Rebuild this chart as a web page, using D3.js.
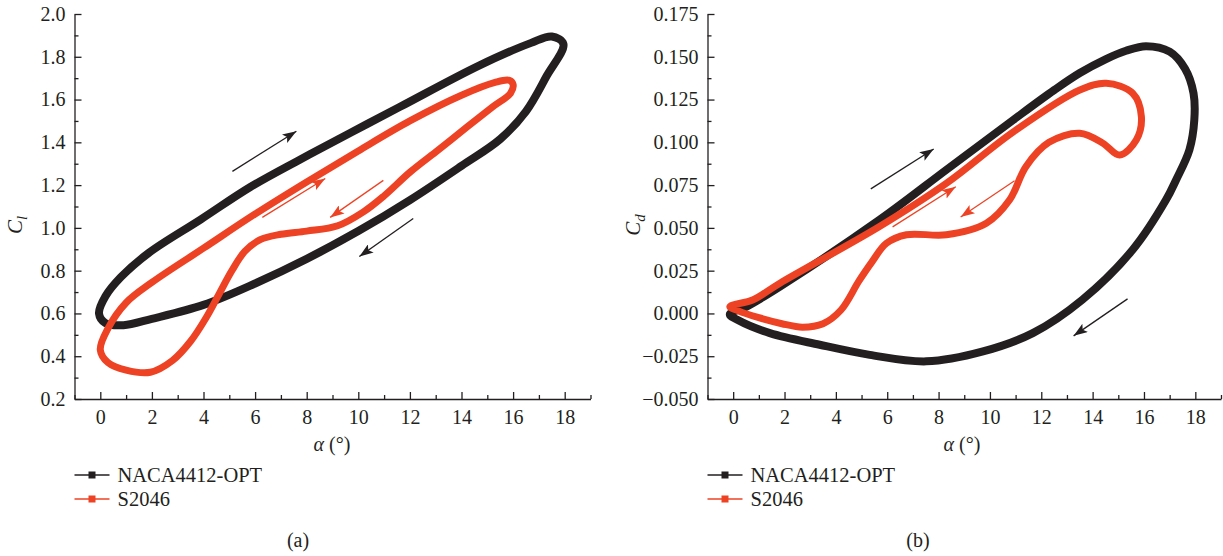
<!DOCTYPE html>
<html>
<head>
<meta charset="utf-8">
<script src="https://cdn.jsdelivr.net/npm/d3@7"></script>
<style>
  body { margin: 0; background: #fff; }
  svg { display: block; font-family: "Liberation Serif", "DejaVu Serif", serif; }
</style>
</head>
<body>
<svg id="chart" width="1223" height="556"></svg>
<script>
// series names
const series_names = ["NACA4412-OPT", "S2046"];

// panel (a): lift coefficient loops, alpha in degrees
const cl_naca_alpha = [-0.05, 0.2, 0.8, 1.9, 3.9, 5.8, 7.75, 9.7, 11.6, 14.7, 16.7, 17.5, 17.95,
  17.3, 16.5, 15.5, 14.0, 12.0, 10.0, 8.0, 6.0, 4.0, 2.0, 0.9, 0.2];
const cl_naca_val = [0.60, 0.68, 0.77, 0.885, 1.04, 1.19, 1.32, 1.445, 1.565, 1.76, 1.865, 1.895, 1.86,
  1.71, 1.545, 1.415, 1.29, 1.13, 0.985, 0.855, 0.74, 0.64, 0.575, 0.545, 0.555];

const cl_s2046_alpha = [0.0, 0.3, 1.0, 2.0, 4.0, 6.0, 8.0, 10.0, 12.0, 14.0, 15.3, 15.85, 16.0,
  15.9, 15.2, 14.2, 13.0, 12.0, 11.0, 10.2, 9.2, 8.0, 7.0, 6.2, 5.6, 5.1, 4.6, 4.1, 3.5, 2.8, 1.94, 1.0, 0.3];
const cl_s2046_val = [0.43, 0.53, 0.65, 0.745, 0.905, 1.065, 1.215, 1.36, 1.50, 1.62, 1.68, 1.69, 1.67,
  1.63, 1.565, 1.47, 1.355, 1.26, 1.15, 1.075, 1.01, 0.985, 0.97, 0.945, 0.89, 0.80, 0.69, 0.58, 0.47, 0.38, 0.325, 0.335, 0.37];

// panel (b): drag coefficient loops
const cd_naca_alpha = [-0.13, 0.52, 1.82, 5.7, 8.3, 10.9, 12.5, 13.5, 14.5, 15.3, 16.08, 17.0, 17.6, 17.93, 17.96, 17.77, 17.25,
  16.86, 15.56, 13.6, 11.67, 9.73, 7.52, 5.32, 3.37, 1.43, 0.2];
const cd_naca_val = [-0.0005, 0.004, 0.0157, 0.0547, 0.0839, 0.113, 0.1305, 0.1405, 0.1485, 0.1535, 0.1562, 0.153, 0.143, 0.1287, 0.113, 0.0956, 0.078,
  0.0664, 0.0372, 0.008, -0.0115, -0.0222, -0.028, -0.0242, -0.0183, -0.0115, -0.004];

const cd_s2046_alpha = [-0.13, 0.78, 1.82, 5.7, 8.3, 10.9, 13.5, 14.53, 15.56, 15.9, 15.7, 15.05, 14.4, 13.5,
  12.3, 11.4, 10.77, 9.86, 8.3, 6.75, 5.97, 5.4, 4.9, 4.2, 3.5, 2.7, 1.9, 1.0, 0.2];
const cd_s2046_val = [0.004, 0.008, 0.0177, 0.0508, 0.076, 0.106, 0.1306, 0.1345, 0.1287, 0.115, 0.1014, 0.0926, 0.0995, 0.1053,
  0.100, 0.0858, 0.0664, 0.0527, 0.046, 0.046, 0.041, 0.030, 0.019, 0.002, -0.006, -0.008, -0.006, -0.0025, 0.0015];

// direction arrows [alpha0, c0, alpha1, c1]
const cl_arrows = [[5.12, 1.264, 7.6, 1.452], [12.13, 1.044, 10.04, 0.866], [6.28, 1.049, 8.72, 1.231], [10.97, 1.222, 8.91, 1.049]];
const cd_arrows = [[5.36, 0.0728, 7.81, 0.0961], [15.36, 0.0085, 13.26, -0.0131], [6.21, 0.0506, 8.67, 0.074], [10.96, 0.0775, 8.86, 0.0564]];

const x_ticks = [0, 2, 4, 6, 8, 10, 12, 14, 16, 18];
const x_minor = [-1, 1, 3, 5, 7, 9, 11, 13, 15, 17, 19];
const cl_ticks = [0.2, 0.4, 0.6, 0.8, 1.0, 1.2, 1.4, 1.6, 1.8, 2.0];
const cl_minor = [0.3, 0.5, 0.7, 0.9, 1.1, 1.3, 1.5, 1.7, 1.9];
const cd_ticks = [-0.050, -0.025, 0.000, 0.025, 0.050, 0.075, 0.100, 0.125, 0.150, 0.175];
const cd_minor = [-0.0375, -0.0125, 0.0125, 0.0375, 0.0625, 0.0875, 0.1125, 0.1375, 0.1625];

const ink = "#231f20";
const colors = ["#231f20", "#ee4224"];

const svg = d3.select("#chart");

const defs = svg.append("defs");
colors.forEach((c, i) => {
  defs.append("marker")
    .attr("id", "head" + i)
    .attr("viewBox", "0 0 14 10")
    .attr("refX", 14).attr("refY", 5)
    .attr("markerWidth", 14).attr("markerHeight", 10)
    .attr("markerUnits", "userSpaceOnUse")
    .attr("orient", "auto")
    .append("path").attr("d", "M0,0 L14,5 L0,10 L3,5 Z").attr("fill", c);
});

function zip(a, b) { return a.map((v, i) => [v, b[i]]); }

function drawPanel(opt) {
  const x = d3.scaleLinear().domain([-1, 19]).range([opt.x0, opt.x1]);
  const y = d3.scaleLinear().domain(opt.ydomain).range([399, 14]);
  const g = svg.append("g");

  // x axis
  g.append("g").attr("transform", "translate(0,399)")
    .call(d3.axisBottom(x).tickValues(x_ticks).tickSize(-7).tickSizeOuter(0).tickPadding(11).tickFormat(d3.format("d")));
  g.append("g").attr("transform", "translate(0,399)")
    .call(d3.axisBottom(x).tickValues(x_minor).tickSize(-4).tickSizeOuter(0).tickFormat(""))
    .select(".domain").remove();

  // y axis
  g.append("g").attr("transform", `translate(${opt.x0},0)`)
    .call(d3.axisLeft(y).tickValues(opt.yticks).tickSize(-7).tickSizeOuter(0).tickPadding(9).tickFormat(d3.format(opt.yfmt)));
  g.append("g").attr("transform", `translate(${opt.x0},0)`)
    .call(d3.axisLeft(y).tickValues(opt.yminor).tickSize(-4).tickSizeOuter(0).tickFormat(""))
    .select(".domain").remove();

  g.selectAll(".domain, .tick line").attr("stroke", ink).attr("stroke-width", 1.3);
  g.selectAll(".tick text").attr("fill", ink).style("font-size", "20px").style("font-family", "Liberation Serif, serif");

  // loops
  const line = d3.line().x(d => x(d[0])).y(d => y(d[1])).curve(d3.curveCatmullRomClosed.alpha(0.5));
  opt.loops.forEach((pts, i) => {
    g.append("path").attr("d", line(pts))
      .attr("fill", "none").attr("stroke", colors[i])
      .attr("stroke-width", i == 0 ? 8 : 7).attr("stroke-linejoin", "round");
  });

  // arrows: first two black, last two red
  opt.arrows.forEach((a, i) => {
    const ci = i < 2 ? 0 : 1;
    g.append("line")
      .attr("x1", x(a[0])).attr("y1", y(a[1]))
      .attr("x2", x(a[2])).attr("y2", y(a[3]))
      .attr("stroke", colors[ci]).attr("stroke-width", 1.3)
      .attr("marker-end", `url(#head${ci})`);
  });

  // axis titles
  g.append("text").attr("x", opt.xtitle).attr("y", 451).attr("text-anchor", "middle")
    .attr("fill", ink).style("font-size", "20px")
    .html('<tspan font-style="italic">α</tspan> (°)');
  const yt = g.append("text")
    .attr("transform", `translate(${opt.ytitleX},225) rotate(-90)`)
    .attr("text-anchor", "middle").attr("fill", ink).style("font-size", "21px").style("font-style", "italic");
  yt.append("tspan").text("C");
  yt.append("tspan").attr("dy", 5).style("font-size", "15px").text(opt.sub);

  // legend
  series_names.forEach((name, i) => {
    const ly = 475 + i * 24;
    g.append("line").attr("x1", opt.x0).attr("x2", opt.x0 + 35).attr("y1", ly).attr("y2", ly)
      .attr("stroke", colors[i]).attr("stroke-width", 1.5);
    g.append("rect").attr("x", opt.x0 + 14).attr("y", ly - 3.5).attr("width", 7).attr("height", 7).attr("fill", colors[i]);
    g.append("text").attr("x", opt.x0 + 43).attr("y", ly + 7).attr("fill", ink).style("font-size", "20.5px").text(name);
  });

  // caption
  g.append("text").attr("x", opt.caption).attr("y", 547).attr("text-anchor", "middle")
    .attr("fill", ink).style("font-size", "20px").text(opt.label);
}

drawPanel({
  x0: 74.5, x1: 590.5, ydomain: [0.2, 2.0], yticks: cl_ticks, yminor: cl_minor, yfmt: ".1f",
  loops: [zip(cl_naca_alpha, cl_naca_val), zip(cl_s2046_alpha, cl_s2046_val)],
  arrows: cl_arrows, xtitle: 332, ytitleX: 22, sub: "l", caption: 298, label: "(a)"
});

drawPanel({
  x0: 707.5, x1: 1221, ydomain: [-0.05, 0.175], yticks: cd_ticks, yminor: cd_minor, yfmt: ".3f",
  loops: [zip(cd_naca_alpha, cd_naca_val), zip(cd_s2046_alpha, cd_s2046_val)],
  arrows: cd_arrows, xtitle: 962, ytitleX: 640, sub: "d", caption: 918, label: "(b)"
});
</script>
</body>
</html>
